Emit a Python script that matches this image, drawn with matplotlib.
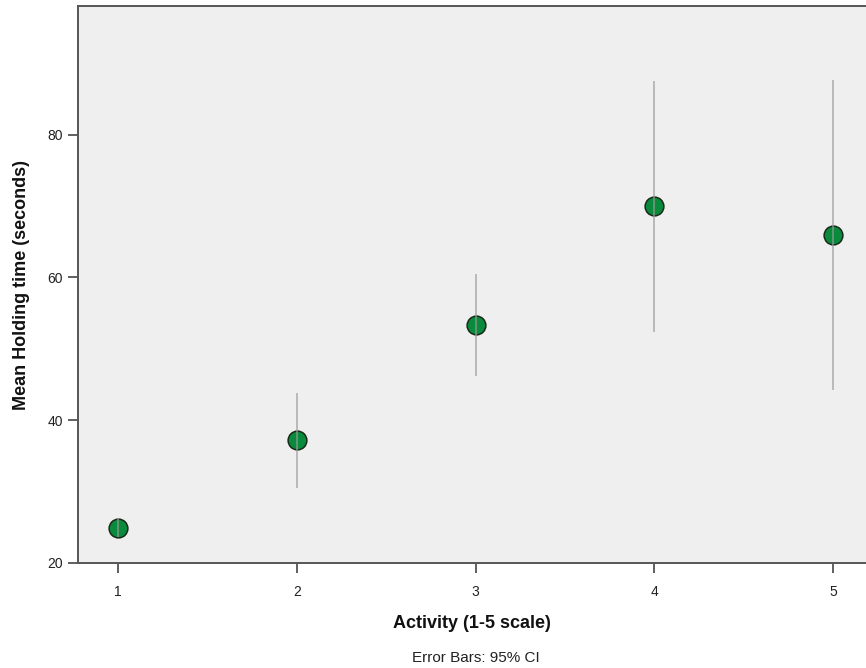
import matplotlib
matplotlib.use("Agg")
import matplotlib.pyplot as plt

plt.rcParams['font.family'] = ['Liberation Sans', 'DejaVu Sans']

activity = [1, 2, 3, 4, 5]
mean_time = [24.9, 37.2, 53.3, 70.0, 66.0]
ci_low = [23.6, 30.5, 46.2, 52.4, 44.2]
ci_high = [26.3, 43.8, 60.5, 87.5, 87.7]
xticks = [1, 2, 3, 4, 5]
yticks = [20, 40, 60, 80]

fig = plt.figure(figsize=(8.66, 6.68), dpi=100)
ax = fig.add_axes([78/866, 105/668, 1 - 78/866, 557/668])
ax.set_facecolor('#efefef')

ax.plot(activity, mean_time, 'o', markersize=13.5, markerfacecolor='#0a8a3c',
        markeredgecolor='#1a2a1a', markeredgewidth=1.1, linestyle='none', zorder=3)
ax.vlines(activity, ci_low, ci_high, colors='#9a9a9a', linewidth=1.1, alpha=0.8, zorder=4)

ax.set_xlim(0.776, 5.183)
ax.set_ylim(20, 98)
ax.set_xticks(xticks)
ax.set_yticks(yticks)
ax.tick_params(axis='both', direction='out', length=7, width=1.2, color='#444444',
               labelsize=10, labelcolor='#222222', pad=4)
ax.tick_params(axis='x', pad=9)

for s in ['left', 'bottom', 'top']:
    ax.spines[s].set_color('#555555')
    ax.spines[s].set_linewidth(1.4)
ax.spines['right'].set_visible(False)

ax.set_xlabel('Activity (1-5 scale)', fontsize=13, fontweight='bold', labelpad=11, color='#111111')
ax.set_ylabel('Mean Holding time (seconds)', fontsize=13, fontweight='bold', labelpad=12, color='#111111')

fig.text(476/866, 1 - 658/668, 'Error Bars: 95% CI', ha='center', va='center', fontsize=11, color='#222222')

fig.savefig('out.png', dpi=100)
